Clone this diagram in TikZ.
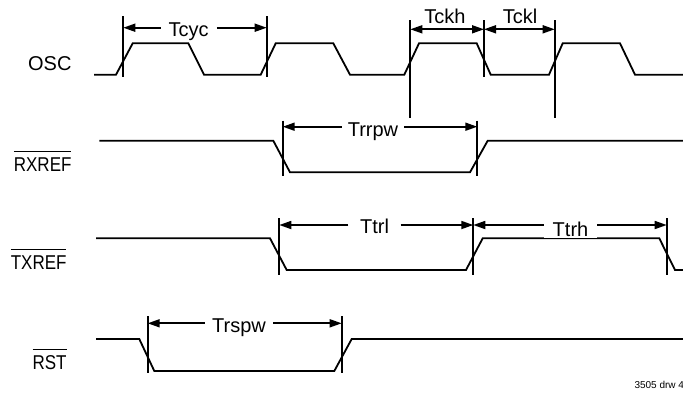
\documentclass[tikz,border=0pt]{standalone}
\usepackage{fontspec}
\setmainfont{Liberation Sans}
\usetikzlibrary{arrows.meta}
\newcommand{\sigbar}[1]{\leavevmode\vbox{\hrule height 1.2pt\kern 5pt\hbox{\scalebox{0.85}[1]{#1}}}}
\tikzset{
  wave/.style={line width=1.8pt},
  marker/.style={line width=1.7pt},
  dim/.style={line width=1.7pt, -{Triangle[length=12pt,width=8pt]}},
  dimboth/.style={line width=1.7pt, {Triangle[length=12pt,width=8pt]}-{Triangle[length=12pt,width=8pt]}},
  tlabel/.style={font=\fontsize{20}{24}\selectfont, inner ysep=0pt, inner xsep=8pt, anchor=base},
  siglabel/.style={font=\fontsize{20}{24}\selectfont, inner sep=0pt, anchor=base east},
  note/.style={font=\fontsize{10}{12}\selectfont, inner sep=0pt, anchor=base west},
}
\begin{document}
\begin{tikzpicture}[x=1pt,y=-1pt]
\useasboundingbox (0,0) rectangle (683,392);

% signal names
\node[siglabel] (osc) at (71.7,70.7) {OSC};
\node[siglabel] (rxref) at (71.7,171) {\sigbar{RXREF}};
\node[siglabel] (txref) at (66.7,269) {\sigbar{TXREF}};
\node[siglabel] (rst) at (66.7,369) {\sigbar{RST}};

% waveforms
\draw[wave] (94,74.7) -- (116,74.7) -- (132.7,43.3) -- (188.3,43.3) -- (204,74.7)
  -- (260.7,74.7) -- (275.7,43.3) -- (333.3,43.3) -- (350,74.7)
  -- (404.3,74.7) -- (419,43.3) -- (476.7,43.3) -- (490.7,74.7)
  -- (549,74.7) -- (562.7,43.3) -- (620,43.3) -- (635,74.7) -- (683,74.7);
\draw[wave] (99.3,140.7) -- (273.3,140.7) -- (290,172.3) -- (470,172.3) -- (487.7,140.7) -- (683,140.7);
\draw[wave] (96,238.3) -- (270,238.3) -- (286.7,270) -- (466,270) -- (482.7,238.3)
  -- (659.3,238.3) -- (675,270) -- (683,270);
\draw[wave] (96,339) -- (139.3,339) -- (154.3,371) -- (334.3,371) -- (351.7,339) -- (683,339);

% marker lines
\draw[marker] (123.3,16) -- (123.3,77);
\draw[marker] (266.7,16) -- (266.7,77);
\draw[marker] (410.3,20) -- (410.3,118.3);
\draw[marker] (484,20) -- (484,77);
\draw[marker] (554.7,20) -- (554.7,118.3);
\draw[marker] (282.7,120.7) -- (282.7,176);
\draw[marker] (477.3,120.7) -- (477.3,176);
\draw[marker] (279.3,218.3) -- (279.3,275);
\draw[marker] (473.3,218.3) -- (473.3,275);
\draw[marker] (666.7,218.3) -- (666.7,275);
\draw[marker] (147.7,316) -- (147.7,372.7);
\draw[marker] (341.7,316) -- (341.7,372.7);

% arrow end points on the markers
\coordinate (cyc1) at (123.3,27.7);
\coordinate (cyc2) at (266.7,27.7);
\coordinate (ck1) at (410.3,29.3);
\coordinate (ck2) at (484,29.3);
\coordinate (ck3) at (554.7,29.3);
\coordinate (rr1) at (282.7,126.7);
\coordinate (rr2) at (477.3,126.7);
\coordinate (tr1) at (279.3,225);
\coordinate (tr2) at (473.3,225);
\coordinate (tr3) at (666.7,225);
\coordinate (rs1) at (147.7,323.3);
\coordinate (rs2) at (341.7,323.3);

% timing labels
\node[tlabel] (tcyc) at (188.7,36) {Tcyc};
\node[tlabel] (tckh) at (445,23.3) {Tckh};
\node[tlabel] (tckl) at (520,23.3) {Tckl};
\node[tlabel, inner xsep=6pt] (trrpw) at (373,136.7) {Trrpw};
\node[tlabel, inner xsep=11.5pt] (ttrl) at (374.5,233.3) {Ttrl};
\node[tlabel, inner xsep=8.6pt, inner ysep=2.3pt, fill=white] (ttrh) at (570.5,236) {Ttrh};
\node[tlabel, inner xsep=7.2pt] (trspw) at (239,332.5) {Trspw};

% dimension arrows
\draw[dim] (tcyc.west |- cyc1) -- (cyc1);
\draw[dim] (tcyc.east |- cyc2) -- (cyc2);
\draw[dimboth] (ck1) -- (ck2);
\draw[dimboth] (ck2) -- (ck3);
\draw[dim] (trrpw.west |- rr1) -- (rr1);
\draw[dim] (trrpw.east |- rr2) -- (rr2);
\draw[dim] (ttrl.west |- tr1) -- (tr1);
\draw[dim] (ttrl.east |- tr2) -- (tr2);
\draw[dim] (ttrh.west |- tr2) -- (tr2);
\draw[dim] (ttrh.east |- tr3) -- (tr3);
\draw[dim] (trspw.west |- rs1) -- (rs1);
\draw[dim] (trspw.east |- rs2) -- (rs2);

% drawing number
\node[note] (drw) at (634.3,388.7) {3505 drw 4};
\end{tikzpicture}
\end{document}
